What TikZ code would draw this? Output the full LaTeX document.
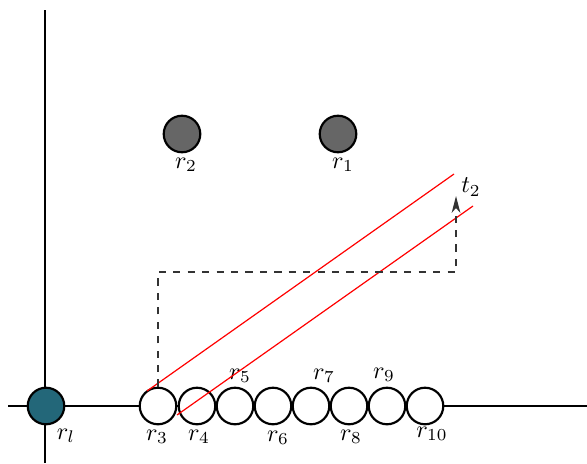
\documentclass[tikz,border=0pt]{standalone}
\usepackage{amsmath,amssymb}
\usepackage{tikz}
\usetikzlibrary{calc,arrows.meta}
\definecolor{robotteal}{RGB}{35,103,121}
\definecolor{robotgray}{RGB}{102,102,102}
\tikzset{
  robot/.style={circle,draw=black,line width=0.9pt,inner sep=0pt,minimum size=15.2pt,fill=white},
  track/.style={red,line width=0.5pt},
  guide/.style={dashed,black!80,line width=0.6pt}
}

\begin{document}
\begin{tikzpicture}[x=4.157pt,y=4.157pt]
\useasboundingbox (0,0) rectangle (58.7,46.3);
% axes
\draw[line width=0.5pt] (4.5,0) -- (4.5,45.3);
\draw[line width=0.5pt] (0.8,5.7) -- (58.7,5.7);
% robots on the line
\node[robot,fill=robotteal] (rl) at (4.6,5.7) {};
\foreach \i/\x in {3/15.8,4/19.7,5/23.5,6/27.3,7/31.1,8/34.9,9/38.7,10/42.5}
  \node[robot] (r\i) at (\x,5.7) {};
\node[robot,fill=robotgray] (r2) at (18.2,32.9) {};
\node[robot,fill=robotgray] (r1) at (33.8,32.9) {};
% labels
\node at (6.6,2.7) {$r_l$};
\foreach \i/\x/\y in {3/15.7/2.6, 4/19.9/2.6, 5/24.0/8.7, 6/27.8/2.5,
                      7/32.4/8.7, 8/35.1/2.6, 9/38.4/8.8, 10/43.2/2.9,
                      2/18.6/29.8, 1/34.3/29.8}
  \node at (\x,\y) {$r_{\i}$};
% corridor
\coordinate (a1) at (14.7,7.2);
\coordinate (b1) at (45.4,28.9);
\coordinate (a2) at (17.7,4.8);
\coordinate (b2) at (47.3,25.7);
\draw[track] (a1) -- (b1);
\draw[track] (a2) -- (b2);
% path to target
\coordinate (t2) at (45.6,26.7);
\draw[guide,-{Stealth[length=7pt,width=3.6pt,inset=2pt]}] (r3.north) |- (45.6,19.1) -- (t2);
\node at (47.1,27.6) {$t_2$};
\end{tikzpicture}
\end{document}
